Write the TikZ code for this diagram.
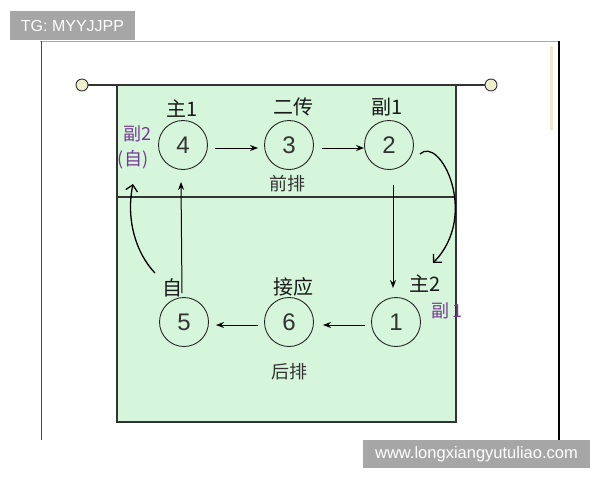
\documentclass[tikz,border=0pt]{standalone}
\usepackage{fontspec}
\setmainfont{Liberation Sans}
\newfontfamily\cjk{Noto Sans CJK SC}
\usetikzlibrary{arrows.meta}
\definecolor{courtgreen}{RGB}{214,246,219}
\definecolor{markpurple}{RGB}{118,58,145}
\definecolor{wmgray}{RGB}{166,166,166}
\definecolor{posty}{RGB}{238,238,206}
\tikzset{
  posnode/.style={circle,draw=black!85,line width=0.9pt,minimum size=49pt,inner sep=0pt,font=\fontsize{24}{24}\selectfont,text=black!80},
  lbl/.style={font=\cjk\fontsize{20}{20}\selectfont,text=black!90,inner sep=0pt},
  plbl/.style={font=\cjk\fontsize{18}{18}\selectfont,text=markpurple,inner sep=0pt},
  rowlbl/.style={font=\cjk\fontsize{18}{18}\selectfont,text=black!80,inner sep=0pt},
  arr/.style={line width=1pt,-{Stealth[length=8pt,width=6pt]}},
  carr/.style={line width=1.3pt,-{Straight Barb[length=6pt,width=12pt]}},
  wm/.style={fill=wmgray,text=white,inner sep=0pt}
}
\begin{document}
\begin{tikzpicture}[x=1pt,y=-1pt]
\useasboundingbox (0,0) rectangle (600,480);
\fill[white] (0,0) rectangle (600,480);
% outer frame
\draw[color={rgb,255:red,170;green,168;blue,150},line width=1pt] (40,41) -- (559,41);
\draw[black!70,line width=1pt] (41,41) -- (41,440);
\draw[black,line width=1.2pt] (559,41) -- (559,440);
\draw[color={rgb,255:red,242;green,230;blue,208},line width=3pt] (551,46) -- (551,130);
% court
\filldraw[fill=courtgreen,draw=black!80,line width=1.3pt] (117,85) rectangle (456,422);
\draw[black!80,line width=1.1pt] (117,197) -- (456,197);
% net
\node[circle,draw=black!80,fill=posty,line width=0.9pt,minimum size=12pt,inner sep=0pt] (netL) at (82,85) {};
\node[circle,draw=black!80,fill=posty,line width=0.9pt,minimum size=12pt,inner sep=0pt] (netR) at (491,85) {};
\draw[black!80,line width=1.3pt] (netL) -- (netR);
% positions
\node[posnode] (n4) at (183,145) {4};
\node[posnode] (n3) at (289,145) {3};
\node[posnode] (n2) at (389,145) {2};
\node[posnode] (n5) at (184,322) {5};
\node[posnode] (n6) at (289,322) {6};
\node[posnode] (n1) at (396,322) {1};
% labels
\node[lbl] (l4) at (182,109) {主1};
\node[lbl] (l3) at (293,107) {二传};
\node[lbl] (l2) at (387,107) {副1};
\node[plbl] (p2) at (137,134) {副2};
\node[plbl] (p3) at (133,160) {(自)};
\node[rowlbl] (front) at (287,184) {前排};
\node[rowlbl] (back) at (289,372) {后排};
\node[lbl] (l5) at (172,288) {自};
\node[lbl] (l6) at (293,287) {接应};
\node[lbl] (l1) at (425,284) {主2};
\node[plbl] (p1) at (447,311) {副\,1};
% arrows
\draw[arr] ([xshift=7pt,yshift=-3pt]n4.east) -- ([xshift=-6pt,yshift=-3pt]n3.west);
\draw[arr] ([xshift=8pt,yshift=-3pt]n3.east) -- ([xshift=0pt,yshift=-3pt]n2.west);
\draw[arr] ([xshift=-6pt,yshift=-3pt]n1.west) -- ([xshift=9pt,yshift=-3pt]n6.east);
\draw[arr] ([xshift=-6pt,yshift=-3pt]n6.west) -- ([xshift=7pt,yshift=-3pt]n5.east);
\draw[arr] ([xshift=4pt,yshift=-15pt]n2.south) -- ([xshift=-3pt,yshift=9pt]n1.north);
\draw[arr] ([xshift=-2pt,yshift=4pt]n5.north) -- ([xshift=-2pt,yshift=-12pt]n4.south);
\coordinate (cR) at (433,263);
\coordinate (cL) at (133,184);
\draw[carr] ([xshift=6pt,yshift=-9pt]n2.east) .. controls (440,135) and (480,215) .. (cR);
\draw[carr] ([xshift=-29pt,yshift=24pt]n5.north) .. controls (135,252) and (126,218) .. (cL);
% watermarks
\node[wm,font=\fontsize{16}{16}\selectfont,minimum width=125pt,minimum height=29pt] (wm1) at (72.5,25.5) {TG: MYYJJPP};
\node[wm,font=\fontsize{16.5}{16.5}\selectfont,minimum width=227pt,minimum height=28pt] (wm2) at (476.5,454) {www.longxiangyutuliao.com};
\end{tikzpicture}
\end{document}
